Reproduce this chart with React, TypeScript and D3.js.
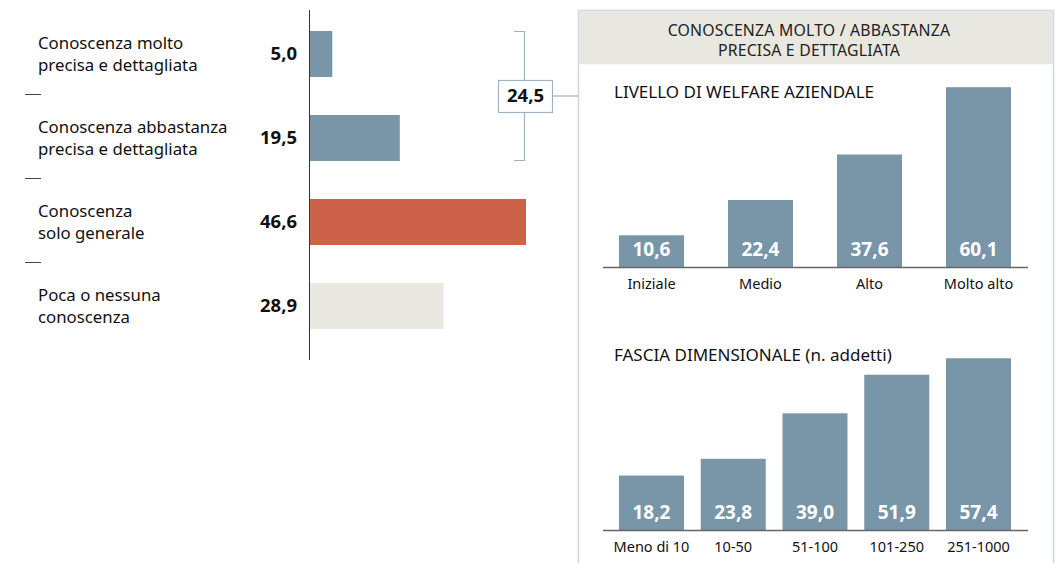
import React, { useEffect, useRef } from 'react';
import * as d3 from 'd3';

const mainCategories = [
  ['Conoscenza molto', 'precisa e dettagliata'],
  ['Conoscenza abbastanza', 'precisa e dettagliata'],
  ['Conoscenza', 'solo generale'],
  ['Poca o nessuna', 'conoscenza'],
];
const mainValues = [5.0, 19.5, 46.6, 28.9];
const mainColors = ['#7896a8', '#7896a8', '#cc6249', '#e9e8e1'];
const bracketTotal = '24,5';

const panelTitle = ['CONOSCENZA MOLTO / ABBASTANZA', 'PRECISA E DETTAGLIATA'];

const welfareTitle = 'LIVELLO DI WELFARE AZIENDALE';
const welfareCategories = ['Iniziale', 'Medio', 'Alto', 'Molto alto'];
const welfareValues = [10.6, 22.4, 37.6, 60.1];

const sizeTitle = 'FASCIA DIMENSIONALE (n. addetti)';
const sizeCategories = ['Meno di 10', '10-50', '51-100', '101-250', '251-1000'];
const sizeValues = [18.2, 23.8, 39.0, 51.9, 57.4];

const FONT = "'Noto Sans', 'Open Sans', sans-serif";
const BAR = '#7896a8';
const fmt = (v: number) => v.toFixed(1).replace('.', ',');

export default function App() {
  const ref = useRef<SVGSVGElement>(null);

  useEffect(() => {
    const svg = d3.select(ref.current);
    svg.selectAll('*').remove();

    // ---- left horizontal bar chart
    const idx = mainValues.map((_, i) => i);
    const y = d3.scaleBand<number>().domain(idx).range([31, 329]).paddingInner(0.452).paddingOuter(0);
    const x = d3.scaleLinear().domain([0, 46.6]).range([309, 526]);

    svg.append('g').selectAll('rect').data(idx).enter().append('rect')
      .attr('x', x(0))
      .attr('y', d => y(d)!)
      .attr('width', d => x(mainValues[d]) - x(0))
      .attr('height', y.bandwidth())
      .attr('fill', d => mainColors[d]);

    svg.append('line')
      .attr('x1', 309.5).attr('x2', 309.5).attr('y1', 10).attr('y2', 360)
      .attr('stroke', '#333').attr('stroke-width', 1);

    const lab = svg.append('g').attr('font-family', FONT).attr('fill', '#111');
    idx.forEach(i => {
      const cy = y(i)! + y.bandwidth() / 2;
      lab.append('text').attr('x', 38).attr('y', cy - 11).attr('dy', '0.35em')
        .attr('font-size', 16.8).text(mainCategories[i][0]);
      lab.append('text').attr('x', 38).attr('y', cy + 11).attr('dy', '0.35em')
        .attr('font-size', 16.8).text(mainCategories[i][1]);
      lab.append('text').attr('x', 297).attr('y', cy).attr('dy', '0.35em')
        .attr('text-anchor', 'end').attr('font-size', 18.5).attr('font-weight', 'bold')
        .text(fmt(mainValues[i]));
      if (i > 0) {
        const my = (y(i - 1)! + y.bandwidth() + y(i)!) / 2 - 1.5;
        svg.append('line').attr('x1', 25).attr('x2', 41).attr('y1', my).attr('y2', my)
          .attr('stroke', '#444').attr('stroke-width', 1);
      }
    });

    // bracket
    const bTop = y(0)!, bBot = y(1)! + y.bandwidth();
    const bc = '#9fb3c0';
    svg.append('path')
      .attr('d', `M514,${bTop + 0.5}H524.5V${bBot - 0.5}H514`)
      .attr('fill', 'none').attr('stroke', bc).attr('stroke-width', 1.2);
    const bMid = 96;
    svg.append('line').attr('x1', 552).attr('x2', 578).attr('y1', bMid).attr('y2', bMid)
      .attr('stroke', bc).attr('stroke-width', 1.2);
    svg.append('rect').attr('x', 498.5).attr('y', 80.5).attr('width', 54).attr('height', 32)
      .attr('fill', '#fff').attr('stroke', bc).attr('stroke-width', 1.2);
    svg.append('text').attr('x', 525.5).attr('y', bMid).attr('dy', '0.35em')
      .attr('text-anchor', 'middle').attr('font-family', FONT).attr('font-size', 18.5)
      .attr('font-weight', 'bold').attr('fill', '#111').text(bracketTotal);

    // ---- right panel
    svg.append('rect').attr('x', 578.5).attr('y', 10.5).attr('width', 475).attr('height', 560)
      .attr('fill', '#fff').attr('stroke', '#cfd8de').attr('stroke-width', 1.5);
    svg.append('rect').attr('x', 579.25).attr('y', 11.25).attr('width', 473.5).attr('height', 53)
      .attr('fill', '#e8e7e0');
    panelTitle.forEach((t, i) => {
      svg.append('text').attr('x', 809).attr('y', 30 + i * 20.5).attr('dy', '0.35em')
        .attr('text-anchor', 'middle').attr('font-family', FONT).attr('font-size', 15.8)
        .attr('letter-spacing', 0.2).attr('fill', '#222').text(t);
    });

    const drawColumns = (
      title: string, titleY: number, cats: string[], vals: number[],
      base: number, pad: number
    ) => {
      const g = svg.append('g').attr('font-family', FONT);
      const bx = d3.scaleBand<string>().domain(cats).range([619, 1011]).paddingInner(pad).paddingOuter(0);
      const by = d3.scaleLinear().domain([0, 60]).range([base, base - 179.5]);
      g.append('text').attr('x', 614).attr('y', titleY).attr('dy', '0.35em')
        .attr('font-size', 17).attr('fill', '#111').text(title);
      g.selectAll('rect').data(cats).enter().append('rect')
        .attr('x', d => bx(d)!)
        .attr('y', (_, i) => by(vals[i]))
        .attr('width', bx.bandwidth())
        .attr('height', (_, i) => by(0) - by(vals[i]))
        .attr('fill', BAR);
      g.selectAll('text.v').data(cats).enter().append('text').attr('class', 'v')
        .attr('x', d => bx(d)! + bx.bandwidth() / 2)
        .attr('y', base - 18).attr('dy', '0.35em')
        .attr('text-anchor', 'middle').attr('font-size', 19).attr('font-weight', 'bold')
        .attr('fill', '#fff').text((_, i) => fmt(vals[i]));
      g.append('line').attr('x1', 603).attr('x2', 1028).attr('y1', base + 0.5).attr('y2', base + 0.5)
        .attr('stroke', '#666').attr('stroke-width', 1.5);
      g.selectAll('text.c').data(cats).enter().append('text').attr('class', 'c')
        .attr('x', d => bx(d)! + bx.bandwidth() / 2)
        .attr('y', base + 17).attr('dy', '0.35em')
        .attr('text-anchor', 'middle').attr('font-size', 14.5).attr('fill', '#111')
        .text(d => d);
    };

    drawColumns(welfareTitle, 92, welfareCategories, welfareValues, 267, 0.4037);
    drawColumns(sizeTitle, 355, sizeCategories, sizeValues, 530, 0.205);
  }, []);

  return (
    <svg ref={ref} width={1059} height={563}
      style={{ position: 'absolute', left: 0, top: 0, display: 'block', background: '#fff' }} />
  );
}
